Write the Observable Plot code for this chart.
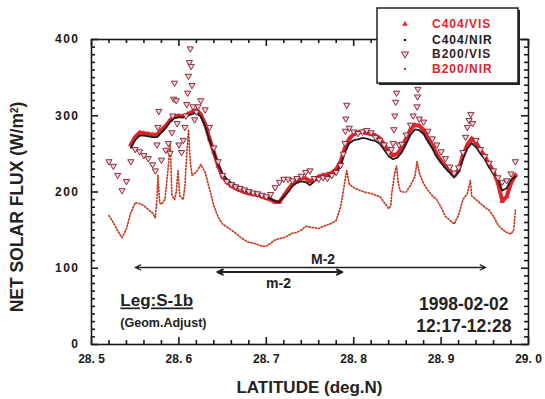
<!DOCTYPE html>
<html><head><meta charset="utf-8">
<script src="https://cdn.jsdelivr.net/npm/d3@7"></script>
<script src="https://cdn.jsdelivr.net/npm/@observablehq/plot@0.6"></script>
<style>
body{margin:0;background:#fff;}
#chart svg{display:block;}
</style></head><body><div id="chart"></div>
<script>
// ---- tick labels / axes ----
const xTicks = [28.5, 28.6, 28.7, 28.8, 28.9, 29.0];
const yTicks = [0, 100, 200, 300, 400];
const seriesNames = ["C404/VIS", "C404/NIR", "B200/VIS", "B200/NIR"];

// ---- C404 series (shared latitude grid) ----
const c404Lat = [28.545,28.550,28.555,28.560,28.565,28.570,28.575,28.580,28.585,28.590,28.595,28.600,28.605,28.610,28.615,28.620,28.625,28.630,28.635,28.640,28.645,28.650,28.655,28.660,28.665,28.670,28.675,28.680,28.685,28.690,28.695,28.700,28.705,28.710,28.715,28.720,28.725,28.730,28.735,28.740,28.745,28.750,28.755,28.760,28.765,28.770,28.775,28.780,28.785,28.790,28.795,28.800,28.805,28.810,28.815,28.820,28.825,28.830,28.835,28.840,28.845,28.850,28.855,28.860,28.865,28.870,28.875,28.880,28.885,28.890,28.895,28.900,28.905,28.910,28.915,28.920,28.925,28.930,28.935,28.940,28.945,28.950,28.955,28.960,28.965,28.970,28.975,28.980,28.985];
const c404Nir = [258,268,274,274,273,272,272,278,284,292,297,298,298,300,302,304,299,287,268,253,236,224,217,212,209,206,203,200,199,198,196,193,191,188,187,194,200,208,212,214,213,209,214,218,219,220,222,226,234,252,264,268,269,271,270,268,267,263,255,247,243,245,252,263,275,282,281,276,266,257,246,238,231,225,219,226,243,257,264,259,250,243,232,224,217,202,205,216,220];
const c404Vis = [262,272,278,277,276,275,275,281,287,294,299,300,299,302,305,307,302,289,270,252,234,220,213,208,205,202,200,198,197,196,194,192,190,187,187,195,203,211,215,218,218,214,217,220,222,223,225,230,240,258,270,276,278,279,277,276,274,270,262,253,248,250,258,270,282,288,287,281,270,261,250,241,234,228,222,229,248,262,270,265,255,247,236,227,212,188,194,212,222];

// ---- B200 series: [latitude, net flux] ----
const b200Vis = [[28.520,240],[28.525,234],[28.530,222],[28.535,202],[28.540,214],[28.545,240],[28.550,256],[28.555,253],[28.560,248],[28.565,244],[28.570,236],[28.573,228],
[28.575,262],[28.576,285],[28.577,306],[28.580,242],[28.585,255],[28.588,264],[28.590,251],
[28.592,278],[28.593,300],[28.594,322],[28.595,343],[28.597,320],[28.598,290],[28.600,262],[28.603,252],[28.605,268],[28.607,285],
[28.608,300],[28.609,315],[28.610,330],[28.611,352],[28.612,370],[28.613,388],[28.614,365],[28.615,340],[28.616,312],[28.618,295],
[28.620,305],[28.622,312],[28.625,320],[28.630,308],[28.635,285],[28.640,258],[28.645,240],[28.650,222],[28.655,214],[28.660,210],[28.665,207],[28.670,205],[28.675,203],[28.680,201],[28.685,199],[28.690,198],[28.695,196],[28.700,194],[28.705,197],[28.710,206],[28.715,213],[28.720,217],[28.725,217],[28.730,215],[28.735,218],[28.740,221],[28.745,226],[28.750,228],[28.755,218],[28.760,217],[28.765,219],[28.770,218],[28.775,222],[28.780,226],[28.785,235],[28.788,250],[28.790,264],[28.7905,280],[28.791,296],[28.792,314],[28.795,284],[28.800,279],[28.805,277],[28.810,279],[28.815,281],[28.820,278],[28.825,272],[28.830,268],[28.835,262],[28.840,252],[28.843,256],[28.845,264],[28.846,282],[28.847,300],[28.848,318],[28.849,330],[28.852,262],[28.855,263],[28.860,275],[28.865,288],[28.868,300],[28.8725,312],[28.873,325],[28.8735,335],[28.875,296],[28.880,292],[28.885,280],[28.890,270],[28.895,262],[28.900,253],[28.905,244],[28.910,233],[28.915,225],[28.920,232],[28.925,252],[28.928,272],[28.930,285],[28.932,294],[28.934,302],[28.936,290],[28.940,268],[28.945,256],[28.950,247],[28.955,238],[28.960,228],[28.965,219],[28.970,213],[28.975,215],[28.980,224],[28.985,240]];

const b200Nir = [[28.520,169],[28.525,160],[28.530,149],[28.535,140],[28.540,152],[28.545,173],[28.550,186],[28.555,185],[28.560,182],[28.565,177],[28.570,172],[28.573,166],[28.575,192],[28.576,222],[28.578,186],[28.580,184],[28.584,190],[28.586,212],[28.588,235],[28.590,266],[28.592,196],[28.595,190],[28.597,200],[28.599,228],[28.601,195],[28.605,190],[28.607,210],[28.609,250],[28.611,282],[28.613,240],[28.615,222],[28.620,226],[28.625,236],[28.630,226],[28.635,204],[28.640,182],[28.645,167],[28.650,158],[28.655,154],[28.660,150],[28.665,146],[28.670,141],[28.675,137],[28.680,134],[28.685,133],[28.690,131],[28.695,129],[28.700,129],[28.705,133],[28.710,137],[28.715,139],[28.720,140],[28.725,143],[28.730,146],[28.735,147],[28.740,150],[28.745,155],[28.750,154],[28.755,153],[28.760,152],[28.765,155],[28.770,157],[28.775,159],[28.780,163],[28.785,180],[28.788,200],[28.790,215],[28.792,228],[28.795,210],[28.800,206],[28.805,203],[28.810,201],[28.815,199],[28.820,198],[28.825,196],[28.830,194],[28.835,186],[28.840,178],[28.8425,182],[28.8435,198],[28.845,210],[28.847,225],[28.849,234],[28.851,212],[28.853,202],[28.855,200],[28.860,200],[28.865,209],[28.870,220],[28.8725,240],[28.875,225],[28.880,211],[28.885,202],[28.890,195],[28.895,190],[28.900,180],[28.905,168],[28.910,163],[28.915,158],[28.920,170],[28.925,190],[28.930,198],[28.9335,215],[28.935,195],[28.940,190],[28.945,185],[28.950,180],[28.955,176],[28.960,168],[28.965,157],[28.970,151],[28.975,147],[28.980,145],[28.983,150],[28.985,176]];

// ---- annotations ----
const segments = [
  {name: "M-2", from: 28.550, to: 28.951, flux: 101, labelLat: 28.765, labelFlux: 112},
  {name: "m-2", from: 28.644, to: 28.787, flux: 95, labelLat: 28.714, labelFlux: 80}
];
const legLabel = "Leg:S-1b", legSub = "(Geom.Adjust)";
const dateLabel = "1998-02-02", timeLabel = "12:17-12:28";

// ---- build tables ----
const c404 = c404Lat.map((lat, i) => ({lat, vis: c404Vis[i], nir: c404Nir[i]}));
const bVis = b200Vis.map(([lat, v]) => ({lat, v}));
const bNir = b200Nir.map(([lat, v]) => ({lat, v}));

const RED = "#e3232b", BLACK = "#1c1c1c", DOT = "#c63a22", TRI_STROKE = "#7a1e2c", TRI_FILL = "#f6cfd5";
const FONT = "'Liberation Sans', Arial, sans-serif";

const arrowsHalf = segments.flatMap(s => [
  {x1: (s.from + s.to) / 2, x2: s.from, y: s.flux, w: s.name === "m-2" ? 2 : 1.3},
  {x1: (s.from + s.to) / 2, x2: s.to, y: s.flux, w: s.name === "m-2" ? 2 : 1.3}
]);

// frame tick positions (axis decoration), lengths expressed in data units
const xTickAll = d3.range(26).map(i => ({v: +(28.5 + i * 0.02).toFixed(2), major: i % 5 === 0}));
const yTickAll = d3.range(41).map(i => ({v: i * 10, major: i % 10 === 0}));
const xLen = m => (m ? 7 : 4) / 874;       // px -> latitude units
const yLen = m => (m ? 7 : 4) / 0.7625;    // px -> flux units
const tk = {stroke: "#1a1a1a", strokeWidth: 1.6};

const plot = Plot.plot({
  width: 545, height: 399,
  marginLeft: 91, marginRight: 17, marginTop: 39, marginBottom: 55,
  style: {fontFamily: FONT, fontWeight: "bold", fontSize: "12px", color: "#1a1a1a", background: "white"},
  x: {domain: [28.5, 29.0], label: null},
  y: {domain: [0, 400], label: null},
  marks: [
    Plot.axisX({ticks: xTicks, tickSize: 0, tickPadding: 10, tickFormat: d => d.toFixed(1).replace(".", ". "), fontSize: 12}),
    Plot.axisY({ticks: yTicks, tickSize: 0, tickPadding: 12, fontSize: 12}),
    Plot.line(c404, {x: "lat", y: "vis", stroke: RED, strokeWidth: 4}),
    Plot.dot(c404, {x: "lat", y: "vis", symbol: "triangle", r: 2, fill: RED}),
    Plot.line(c404, {x: "lat", y: "nir", stroke: BLACK, strokeWidth: 1.8}),
    Plot.line(bNir, {x: "lat", y: "v", stroke: DOT, strokeWidth: 1.7, strokeDasharray: "1.2,2"}),
    Plot.dot(bVis, {x: "lat", y: "v", symbol: "triangle", rotate: 180, r: 2.3, fill: TRI_FILL, stroke: TRI_STROKE, strokeWidth: 0.9}),
    Plot.arrow(arrowsHalf, {x1: "x1", x2: "x2", y1: "y", y2: "y", stroke: "#222", strokeWidth: "w", headLength: 9, headAngle: 50, bend: 0}),
    Plot.text(segments, {x: "labelLat", y: "labelFlux", text: "name", fontSize: 14, fontWeight: "bold", fill: "#222"}),
    Plot.text([legLabel], {x: 28.533, y: 57, text: d => d, textAnchor: "start", fontSize: 17, fontWeight: "bold", fill: "#222"}),
    Plot.text([legSub], {x: 28.533, y: 28, text: d => d, textAnchor: "start", fontSize: 12.5, fontWeight: "bold", fill: "#222"}),
    Plot.text([dateLabel], {x: 28.926, y: 53, text: d => d, fontSize: 17.5, fontWeight: "bold", fill: "#222"}),
    Plot.text([timeLabel], {x: 28.926, y: 24, text: d => d, fontSize: 17.5, fontWeight: "bold", fill: "#222"}),
    // inward frame ticks (bottom, top, left, right)
    Plot.ruleX(xTickAll, {x: "v", y1: 0, y2: d => yLen(d.major), ...tk}),
    Plot.ruleX(xTickAll, {x: "v", y1: 400, y2: d => 400 - yLen(d.major), ...tk}),
    Plot.ruleY(yTickAll, {y: "v", x1: 28.5, x2: d => 28.5 + xLen(d.major), ...tk}),
    Plot.ruleY(yTickAll, {y: "v", x1: 29.0, x2: d => 29.0 - xLen(d.major), ...tk}),
    Plot.frame({stroke: "#1a1a1a", strokeWidth: 1.6})
  ]
});

document.getElementById("chart").appendChild(plot);

const svg = d3.select(plot);
svg.selectAll("g[aria-label='y-axis tick label'] text").attr("letter-spacing", "1.5px");
svg.selectAll("text").filter(function(){ return this.textContent === legLabel; }).style("text-decoration", "underline");

// ---- axis titles ----
svg.append("text").attr("x", 91 + 437 / 2).attr("y", 393).attr("text-anchor", "middle")
  .attr("font-family", FONT).attr("font-weight", "bold").attr("font-size", 17).attr("fill", "#222")
  .text("LATITUDE (deg.N)");
const yTitle = svg.append("text").attr("transform", "translate(23,207) rotate(-90)").attr("text-anchor", "middle")
  .attr("font-family", FONT).attr("font-weight", "bold").attr("font-size", 17.5).attr("fill", "#222");
yTitle.append("tspan").text("NET SOLAR FLUX (W/m");
yTitle.append("tspan").attr("baseline-shift", "super").attr("font-size", 10).text("2");
yTitle.append("tspan").text(")");

// ---- legend box ----
const lg = svg.append("g").attr("font-family", FONT).attr("font-weight", "bold").attr("font-size", 12).attr("text-anchor", "start");
lg.append("rect").attr("x", 379).attr("y", 10).attr("width", 141).attr("height", 75).attr("fill", "#222");
lg.append("rect").attr("x", 377).attr("y", 8).attr("width", 141).attr("height", 75).attr("fill", "white").attr("stroke", "#222").attr("stroke-width", 1.5);
const legendColors = [RED, BLACK, "#3a2226", RED];
const rowsY = [24, 40, 54, 69];
seriesNames.forEach((name, i) => {
  const cy = rowsY[i];
  if (i === 0) lg.append("path").attr("d", d3.symbol(d3.symbolTriangle, 14)()).attr("transform", `translate(405,${cy})`).attr("fill", RED);
  if (i === 1) lg.append("circle").attr("cx", 405).attr("cy", cy).attr("r", 1.3).attr("fill", BLACK);
  if (i === 2) lg.append("path").attr("d", d3.symbol(d3.symbolTriangle, 22)()).attr("transform", `translate(405,${cy}) rotate(180)`).attr("fill", TRI_FILL).attr("stroke", TRI_STROKE).attr("stroke-width", 0.9);
  if (i === 3) lg.append("circle").attr("cx", 405).attr("cy", cy).attr("r", 1.2).attr("fill", DOT);
  lg.append("text").attr("x", 432).attr("y", cy).attr("dy", "0.36em").attr("letter-spacing", "1px")
    .attr("text-anchor", "start").attr("fill", legendColors[i]).text(name);
});
</script>
</body></html>
